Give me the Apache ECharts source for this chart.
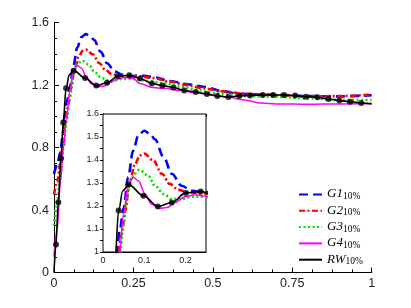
<!DOCTYPE html>
<html><head><meta charset="utf-8">
<script src="https://cdn.jsdelivr.net/npm/echarts@6/dist/echarts.min.js"></script>
<style>html,body{margin:0;padding:0;background:#fff}#c{width:411px;height:308px}</style>
</head><body><div id="c"></div>
<script>
// ---- data ----
const xG1=[0,0.01,0.02,0.027,0.033,0.041,0.050,0.061,0.073,0.086,0.100,0.115,0.126,0.147,0.167,0.191,0.215,0.243,0.27,0.31,0.365,0.42,0.47,0.53,0.575,0.65,0.7,0.8,0.9,1.0];
const yG1=[0.63,0.69,0.77,0.87,1.0,1.1,1.19,1.325,1.44,1.508,1.527,1.512,1.49,1.413,1.34,1.288,1.266,1.259,1.262,1.254,1.227,1.206,1.19,1.163,1.145,1.14,1.138,1.13,1.128,1.135];
const xG2=[0,0.01,0.02,0.03,0.037,0.045,0.054,0.064,0.078,0.09,0.1,0.122,0.143,0.162,0.183,0.207,0.236,0.27,0.31,0.365,0.42,0.47,0.53,0.6,0.7,0.8,0.9,1.0];
const yG2=[0.50,0.58,0.70,0.86,0.98,1.076,1.18,1.296,1.384,1.42,1.428,1.398,1.34,1.296,1.27,1.259,1.255,1.257,1.246,1.222,1.2,1.18,1.16,1.145,1.135,1.128,1.13,1.14];
const xG3=[0,0.01,0.02,0.03,0.04,0.05,0.059,0.069,0.088,0.11,0.126,0.147,0.167,0.191,0.215,0.243,0.27,0.3,0.35,0.4,0.45,0.5,0.55,0.6,0.7,0.8,0.9,1.0];
const yG3=[0.30,0.45,0.62,0.80,0.98,1.12,1.252,1.325,1.357,1.332,1.288,1.252,1.23,1.23,1.24,1.24,1.235,1.225,1.21,1.19,1.17,1.15,1.14,1.13,1.125,1.115,1.105,1.105];
const xG4=[0,0.01,0.02,0.03,0.039,0.05,0.061,0.073,0.086,0.102,0.118,0.136,0.155,0.175,0.199,0.223,0.25,0.27,0.31,0.345,0.4,0.45,0.5,0.55,0.6,0.65,0.7,0.8,0.9,1.0];
const yG4=[0.10,0.28,0.57,0.80,0.98,1.164,1.288,1.325,1.31,1.252,1.208,1.19,1.193,1.215,1.24,1.249,1.243,1.21,1.185,1.18,1.165,1.15,1.135,1.122,1.105,1.085,1.08,1.077,1.08,1.082];
const xRW=[0,0.0063,0.0135,0.022,0.029,0.038,0.048,0.062,0.098,0.133,0.167,0.201,0.237,0.271,0.308,0.341,0.376,0.410,0.446,0.481,0.514,0.549,0.583,0.617,0.657,0.690,0.724,0.759,0.793,0.829,0.864,0.898,0.932,0.967,1.0];
const yRW=[0,0.18,0.45,0.73,0.96,1.18,1.266,1.293,1.245,1.198,1.215,1.257,1.263,1.243,1.211,1.197,1.185,1.166,1.156,1.143,1.131,1.124,1.131,1.134,1.137,1.137,1.137,1.133,1.126,1.122,1.111,1.101,1.094,1.086,1.08];
const xRWmarks=[0.0063,0.0135,0.022,0.029,0.038,0.062,0.098,0.133,0.167,0.201,0.237,0.271,0.308,0.341,0.376,0.410,0.446,0.481,0.514,0.549,0.583,0.617,0.657,0.690,0.724,0.759,0.793,0.829,0.864,0.898,0.932,0.967];
const yRWmarks=[0.18,0.45,0.73,0.96,1.18,1.293,1.245,1.198,1.215,1.257,1.263,1.243,1.211,1.197,1.185,1.166,1.156,1.143,1.131,1.124,1.131,1.134,1.137,1.137,1.137,1.133,1.126,1.122,1.111,1.101,1.094,1.086];
const seriesNames=['G1','G2','G3','G4','RW'];
const legendSub='10%';
const mainX={min:0,max:1,step:0.25};
const mainY={min:0,max:1.6,step:0.4};
const insetX={min:0,max:0.25,step:0.025,labelStep:0.1};
const insetY={min:1,max:1.6,step:0.05,labelStep:0.1};

// ---- chart ----
const pairs=(xs,ys)=>xs.map((x,i)=>[x,ys[i]]);
const colors={G1:'#0000ff',G2:'#ff0000',G3:'#00e000',G4:'#ff00ff',RW:'#000000'};
const styles={
  G1:{width:2.6,type:[9,5]},
  G2:{width:2.6,type:[6,2.5,2,2.5]},
  G3:{width:2.6,type:[2,2.5]},
  G4:{width:1.5,type:'solid'},
  RW:{width:1.6,type:'solid'}
};
const dataSets={G1:pairs(xG1,yG1),G2:pairs(xG2,yG2),G3:pairs(xG3,yG3),G4:pairs(xG4,yG4),RW:pairs(xRW,yRW)};
const marks=pairs(xRWmarks,yRWmarks);

const series=[];
[0,1].forEach(ax=>{
  seriesNames.forEach(n=>{
    series.push({name:n,type:'line',xAxisIndex:ax,yAxisIndex:ax,data:dataSets[n],
      smooth:0.35,smoothMonotone:'x',symbol:'none',showSymbol:false,silent:true,
      lineStyle:{color:colors[n],width:styles[n].width,type:styles[n].type,cap:'butt'},
      itemStyle:{color:colors[n]},z:3});
  });
  series.push({name:'RWm',type:'scatter',xAxisIndex:ax,yAxisIndex:ax,data:marks,symbol:'circle',
    symbolSize:6,itemStyle:{color:'#000'},silent:true,z:4});
});

const lblFont={fontFamily:'Liberation Sans, Arial, sans-serif',color:'#222'};
const onStep=(v,s)=>Math.abs(v/s-Math.round(v/s))<1e-6;
const fmt=(v,s)=>onStep(v,s)?String(+v.toFixed(2)):'';

const chart=echarts.init(document.getElementById('c'),null,{renderer:'canvas'});
chart.setOption({
  animation:false,
  backgroundColor:'#fff',
  grid:[
    {left:54,right:39.3,top:22.7,bottom:35.5,show:false},
    {left:103,top:114,width:103,height:138,show:true,backgroundColor:'#fff',borderColor:'#000',borderWidth:1,z:1}
  ],
  legend:{data:seriesNames,orient:'vertical',left:293,top:180.5,itemWidth:23,itemHeight:10,itemGap:0.3,
    itemStyle:{opacity:0},
    formatter:n=>'{i|'+n+'}{s|'+legendSub+'}',
    textStyle:{rich:{
      i:{fontFamily:'Liberation Serif, serif',fontStyle:'italic',fontSize:13,lineHeight:14,verticalAlign:'top',color:'#000'},
      s:{fontFamily:'Liberation Serif, serif',fontSize:9.5,lineHeight:10,padding:[6,0,0,0],verticalAlign:'bottom',color:'#000'}
    }}},
  xAxis:[
    {type:'value',gridIndex:0,min:mainX.min,max:mainX.max,interval:mainX.step,
      axisLine:{lineStyle:{color:'#000',width:1}},
      axisTick:{inside:true,length:5,lineStyle:{color:'#000'}},
      minorTick:{show:true,splitNumber:4,length:3,lineStyle:{color:'#000'}},
      splitLine:{show:false},minorSplitLine:{show:false},
      axisLabel:Object.assign({fontSize:12.5,margin:5},lblFont)},
    {type:'value',gridIndex:1,min:insetX.min,max:insetX.max,interval:insetX.step,
      axisLine:{lineStyle:{color:'#000',width:1}},
      axisTick:{inside:true,length:3,lineStyle:{color:'#000'}},
      splitLine:{show:false},
      axisLabel:Object.assign({fontSize:9,margin:4,formatter:v=>fmt(v,insetX.labelStep),showMaxLabel:false},lblFont)},
    {type:'value',gridIndex:1,position:'top',min:insetX.min,max:insetX.max,interval:insetX.step,
      axisLine:{lineStyle:{color:'#000',width:1}},
      axisTick:{inside:true,length:3,lineStyle:{color:'#000'}},
      splitLine:{show:false},axisLabel:{show:false}}
  ],
  yAxis:[
    {type:'value',gridIndex:0,min:mainY.min,max:mainY.max,interval:mainY.step,
      axisLine:{show:true,lineStyle:{color:'#000',width:1}},
      axisTick:{show:true,inside:true,length:5,lineStyle:{color:'#000'}},
      minorTick:{show:true,splitNumber:4,length:3,lineStyle:{color:'#000'}},
      splitLine:{show:false},minorSplitLine:{show:false},
      axisLabel:Object.assign({fontSize:12.5,margin:5},lblFont)},
    {type:'value',gridIndex:1,min:insetY.min,max:insetY.max,interval:insetY.step,
      axisLine:{show:true,lineStyle:{color:'#000',width:1}},
      axisTick:{show:true,inside:true,length:3,lineStyle:{color:'#000'}},
      splitLine:{show:false},
      axisLabel:Object.assign({fontSize:9,margin:4,formatter:v=>fmt(v,insetY.labelStep)},lblFont)},
    {type:'value',gridIndex:1,position:'right',min:insetY.min,max:insetY.max,interval:insetY.step,
      axisLine:{show:true,lineStyle:{color:'#000',width:1}},
      axisTick:{show:true,inside:true,length:3,lineStyle:{color:'#000'}},
      splitLine:{show:false},axisLabel:{show:false}}
  ],
  series:series
});
</script></body></html>
